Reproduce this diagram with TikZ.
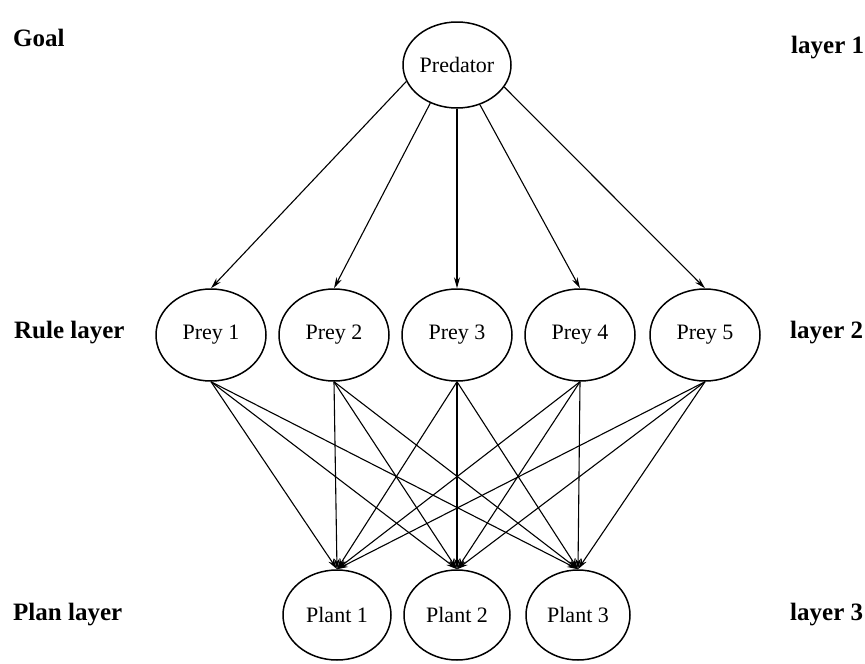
\documentclass[tikz,border=0pt]{standalone}
\usepackage{fontspec}
\setmainfont{Liberation Serif}
\usetikzlibrary{shapes.geometric,arrows.meta}
\tikzset{
  ell/.style={ellipse, draw, line width=1.5pt, minimum width=110pt, minimum height=92pt, inner sep=0pt, font=\fontsize{22}{24}\selectfont},
  lbl/.style={anchor=base west, inner sep=0pt, font=\bfseries\fontsize{25}{28}\selectfont},
  arr/.style={-{Stealth[length=11pt,width=6pt]}, line width=1.1pt}
}
\begin{document}
\begin{tikzpicture}[x=1pt,y=-1pt]
\useasboundingbox (0,0) rectangle (865,664);
% nodes
\node[ell, minimum width=108pt, minimum height=86pt] (pred) at (457,65) {Predator};
\node[ell] (p1) at (211,335) {Prey 1};
\node[ell] (p2) at (334,335) {Prey 2};
\node[ell] (p3) at (457,335) {Prey 3};
\node[ell] (p4) at (580,335) {Prey 4};
\node[ell] (p5) at (705,335) {Prey 5};
\node[ell, minimum width=108pt, minimum height=90pt] (q1) at (337,615) {Plant 1};
\node[ell, minimum width=106pt, minimum height=90pt] (q2) at (457,615) {Plant 2};
\node[ell, minimum width=104pt, minimum height=90pt] (q3) at (578,615) {Plant 3};
% labels
\node[lbl] (goal) at (13,46) {Goal};
\node[lbl] (rule) at (14,338) {Rule layer};
\node[lbl] (plan) at (13,620) {Plan layer};
\node[lbl] (l1) at (791,53) {layer 1};
\node[lbl] (l2) at (790,338) {layer 2};
\node[lbl] (l3) at (790,620) {layer 3};
% predator edges
\draw[arr] (pred.198) -- (p1.north);
\draw[arr] (pred.235) -- (p2.north);
\draw[arr] (pred.270) -- (p3.north);
\draw[arr] (pred.300) -- (p4.north);
\draw[arr] (pred.335) -- (p5.north);
% prey to plant edges
\foreach \a in {p1,p2,p3,p4,p5}{
  \foreach \b in {q1,q2,q3}{
    \draw[arr] (\a.south) -- (\b.north);
  }
}
\end{tikzpicture}
\end{document}
